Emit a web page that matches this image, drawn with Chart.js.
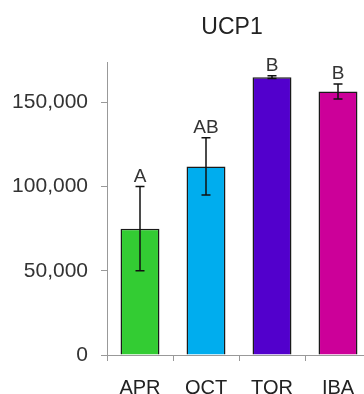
<!DOCTYPE html>
<html>
<head>
<meta charset="utf-8">
<script src="https://cdn.jsdelivr.net/npm/chart.js@4"></script>
<style>
  html, body { margin: 0; padding: 0; background: #fff; overflow: hidden; }
  #wrap { width: 364px; height: 394px; overflow: hidden; }
</style>
</head>
<body>
<div id="wrap"><canvas id="chartBar" width="372" height="394"></canvas></div>
<script>
// data
var labels = ['APR', 'OCT', 'TOR', 'IBA'];
var values = [75000, 112000, 165000, 156500];
var errors = [25000, 17000, 800, 4500];
var letters = ['A', 'AB', 'B', 'B'];
var barColors = ['#33cc33', '#00adee', '#5200cc', '#cc0099'];
var yTicks = [0, 50000, 100000, 150000];

// error bars + group letters on top of each bar
var errorBarPlugin = {
    id: 'errorBars',
    afterDatasetsDraw: function (chart) {
        var ctx = chart.ctx;
        var meta = chart.getDatasetMeta(0);
        var y = chart.scales.y;
        ctx.save();
        ctx.strokeStyle = '#111';
        ctx.lineWidth = 1.5;
        meta.data.forEach(function (bar, i) {
            var hi = y.getPixelForValue(values[i] + errors[i]);
            var lo = y.getPixelForValue(values[i] - errors[i]);
            ctx.beginPath();
            ctx.moveTo(bar.x, hi); ctx.lineTo(bar.x, lo);
            ctx.moveTo(bar.x - 4.5, hi); ctx.lineTo(bar.x + 4.5, hi);
            ctx.moveTo(bar.x - 4.5, lo); ctx.lineTo(bar.x + 4.5, lo);
            ctx.stroke();
            ctx.fillStyle = '#333';
            ctx.font = '19px "Liberation Sans", Arial, sans-serif';
            ctx.textAlign = 'center';
            ctx.textBaseline = 'alphabetic';
            ctx.fillText(letters[i], bar.x, hi - 5);
        });
        // title
        ctx.fillStyle = '#222';
        ctx.font = '23px "Liberation Sans", Arial, sans-serif';
        ctx.textAlign = 'center';
        ctx.textBaseline = 'middle';
        ctx.fillText('UCP1', chart.chartArea.left + 125, 28);
        ctx.restore();
    }
};

var ctx = document.getElementById('chartBar').getContext('2d');
var myChart = new Chart(ctx, {
    type: 'bar',
    data: {
        labels: labels,
        datasets: [{
            data: values,
            backgroundColor: barColors,
            borderColor: '#1a1a1a',
            borderWidth: 1.5,
            categoryPercentage: 1,
            barPercentage: 0.59
        }]
    },
    options: {
        responsive: false,
        animation: false,
        devicePixelRatio: 1,
        layout: { padding: { top: 62, right: 1, left: 0, bottom: 0 } },
        plugins: { legend: { display: false }, title: { display: false }, tooltip: { enabled: false } },
        scales: {
            x: {
                offset: true,
                grid: { offset: true, drawOnChartArea: false, drawTicks: true, tickLength: 6, color: '#999', lineWidth: 1 },
                border: { display: true, color: '#999', width: 1 },
                ticks: { color: '#222', font: { family: '"Liberation Sans", Arial, sans-serif', size: 20 }, padding: 15, maxRotation: 0 },
                afterFit: function (scale) { scale.height = 39; }
            },
            y: {
                min: 0,
                max: 174000,
                afterBuildTicks: function (scale) {
                    scale.ticks = yTicks.map(function (v) { return { value: v }; });
                },
                grid: { drawOnChartArea: false, drawTicks: true, tickLength: 6, color: '#999', lineWidth: 1 },
                border: { display: true, color: '#999', width: 1 },
                ticks: {
                    color: '#333',
                    padding: 13,
                    font: { family: '"Liberation Sans", Arial, sans-serif', size: 21 },
                    callback: function (v) { return v.toLocaleString('en-US'); }
                },
                afterFit: function (scale) { scale.width = 107; }
            }
        }
    },
    plugins: [errorBarPlugin]
});
</script>
</body>
</html>
